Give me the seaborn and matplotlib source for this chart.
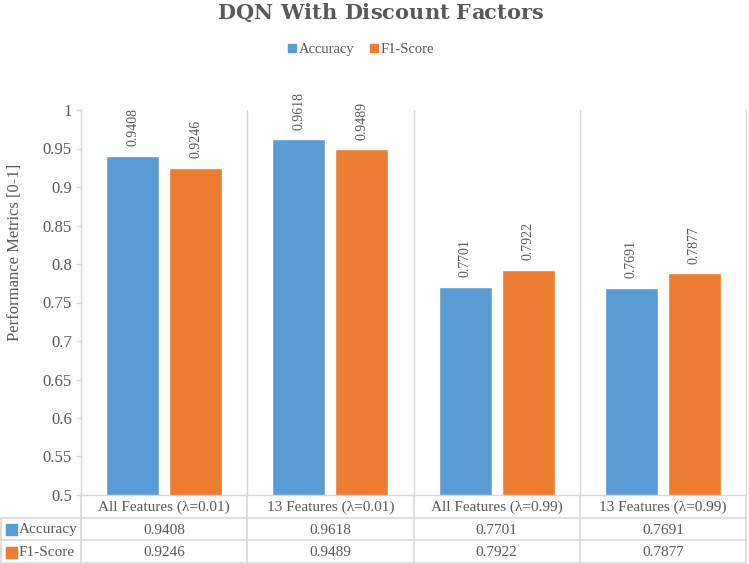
import matplotlib
matplotlib.use("Agg")
import matplotlib.pyplot as plt
import seaborn as sns
import pandas as pd
from matplotlib.lines import Line2D
from matplotlib.patches import Rectangle

categories = ["All Features (λ=0.01)", "13 Features (λ=0.01)",
              "All Features (λ=0.99)", "13 Features (λ=0.99)"]
series_names = ["Accuracy", "F1-Score"]
accuracy = [0.9408, 0.9618, 0.7701, 0.7691]
f1_score = [0.9246, 0.9489, 0.7922, 0.7877]
y_ticks = [0.5, 0.55, 0.6, 0.65, 0.7, 0.75, 0.8, 0.85, 0.9, 0.95, 1.0]
y_tick_labels = ["0.5", "0.55", "0.6", "0.65", "0.7", "0.75", "0.8", "0.85", "0.9", "0.95", "1"]
title = "DQN With Discount Factors"
y_label = "Performance Metrics [0-1]"

colors = ["#5b9bd5", "#ed7d31"]
grid_c = "#d9d9d9"
text_c = "#595959"

df = pd.DataFrame({
    "category": categories * 2,
    "value": accuracy + f1_score,
    "metric": [series_names[0]] * 4 + [series_names[1]] * 4,
})

sns.set_style("white")
plt.rcParams["font.family"] = ["Liberation Serif", "DejaVu Serif"]

W, H = 749, 564
fig = plt.figure(figsize=(W / 100, H / 100), dpi=100)
ax_l, ax_r, ax_t, ax_b = 81, 746, 110, 495
ax = fig.add_axes([ax_l / W, 1 - ax_b / H, (ax_r - ax_l) / W, (ax_b - ax_t) / H])

sns.barplot(data=df, x="category", y="value", hue="metric", palette=colors,
            width=0.76, gap=0.16, ax=ax, legend=False, saturation=1)

ax.set_ylim(0.5, 1.0)
ax.set_xlim(-0.5, 3.5)
ax.set_yticks(y_ticks)
ax.set_yticklabels(y_tick_labels, color=text_c, fontsize=12)
ax.set_xticks([])
ax.set_xlabel("")
ax.set_ylabel(y_label, color=text_c, fontsize=12)
ax.yaxis.set_label_coords(-58 / (ax_r - ax_l), (ax_b - 252) / (ax_b - ax_t))
ax.tick_params(axis="y", length=3.6, color=grid_c, width=1, pad=3, left=True)
ax.spines["top"].set_visible(False)
for s in ["left", "right", "bottom"]:
    ax.spines[s].set_color(grid_c)
    ax.spines[s].set_linewidth(1)
for xv in [0.5, 1.5, 2.5]:
    ax.axvline(xv, color=grid_c, lw=1, zorder=0)

vals = [accuracy, f1_score]
for cont, v in zip(ax.containers, vals):
    ax.bar_label(cont, labels=[f"{x:.4f}" for x in v], rotation=90, padding=7,
                 color=text_c, fontsize=10)

# Title with letter spacing
renderer = fig.canvas.get_renderer()
tfs = 15
tfam = ["DejaVu Serif"]
def _w(s):
    if not s:
        return 0.0
    t = fig.text(0, 0, s, fontsize=tfs, fontweight="bold", family=tfam)
    w = t.get_window_extent(renderer).width
    t.remove()
    return w
full_w = _w(title)
target_w = 326
sp = (target_w - full_w) / (len(title) - 1)
x0 = 380 - target_w / 2
for i, ch in enumerate(title):
    if ch == " ":
        continue
    px = x0 + _w(title[:i]) + i * sp
    fig.text(px / W, 1 - 13 / H, ch, ha="left", va="center", fontsize=tfs,
             fontweight="bold", family=tfam, color=text_c)

handles = [Line2D([], [], marker="s", ls="", color=c, markersize=5.5) for c in colors]
fig.legend(handles, series_names, loc="center", bbox_to_anchor=(361 / W, 1 - 49 / H),
           ncol=2, frameon=False, fontsize=10.5, handlelength=0.6, handletextpad=0.2,
           columnspacing=1.0, labelcolor=text_c)

# Data table
tx = fig.add_axes([0, 0, 1, 1], facecolor="none")
tx.set_xlim(0, W)
tx.set_ylim(H, 0)
tx.axis("off")
rows_y = [495, 518, 540, 563]
col_x = [ax_l + i * (ax_r - ax_l) / 4 for i in range(5)]
for y in rows_y[1:]:
    tx.plot([1, ax_r], [y, y], color=grid_c, lw=1.2)
tx.plot([1, 1], [rows_y[1], rows_y[3]], color=grid_c, lw=1.2)
for x in col_x:
    tx.plot([x, x], [rows_y[0], rows_y[3]], color=grid_c, lw=1.2)

for i, cat in enumerate(categories):
    cx = (col_x[i] + col_x[i + 1]) / 2
    tx.text(cx, (rows_y[0] + rows_y[1]) / 2 + 1, cat, ha="center", va="center",
            fontsize=11, color=text_c)
    for r, v in enumerate(vals):
        tx.text(cx, (rows_y[r + 1] + rows_y[r + 2]) / 2 + 1, f"{v[i]:.4f}",
                ha="center", va="center", fontsize=11, color=text_c)
for r, (name, c) in enumerate(zip(series_names, colors)):
    yc = (rows_y[r + 1] + rows_y[r + 2]) / 2
    tx.add_patch(Rectangle((6, yc - 5), 11, 11, color=c))
    tx.text(19, yc + 1, name, ha="left", va="center", fontsize=11, color=text_c)

fig.savefig("out.png", dpi=100)
